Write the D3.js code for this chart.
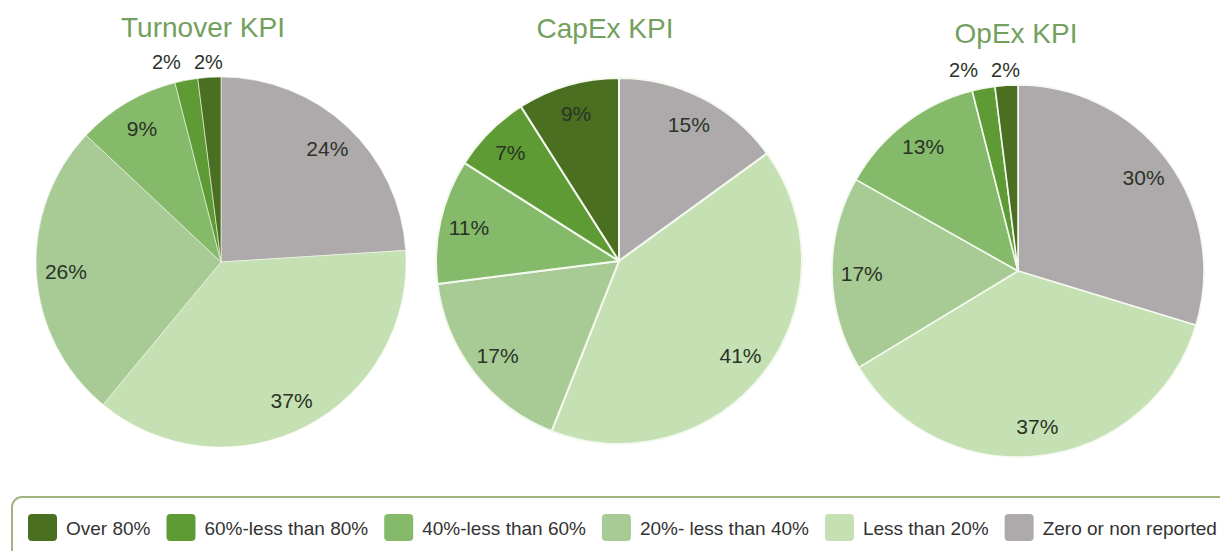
<!DOCTYPE html>
<meta charset="utf-8">
<script src="https://d3js.org/d3.v7.min.js"></script>
<style>
  body { margin: 0; background: #fff; }
  text { font-family: "Liberation Sans", Arial, sans-serif; }
</style>
<div id="my_dataviz"></div>
<script>

// legend order (darkest first)
var categories = ["Over 80%", "60%-less than 80%", "40%-less than 60%", "20%- less than 40%", "Less than 20%", "Zero or non reported"];
var colors = ["#4a6f20", "#5e9b34", "#84ba69", "#a8cb95", "#c5e0b3", "#aeaaab"];

var titles = ["Turnover KPI", "CapEx KPI", "OpEx KPI"];
var turnover = [2, 2, 9, 26, 37, 24];
var capex = [9, 7, 11, 17, 41, 15];
var opex = [2, 2, 13, 17, 37, 30];

// where each pie goes
var layout = [
  {cx: 221, cy: 262, r: 185, tdx: -18, ty: 37, stroke: 0.6},
  {cx: 619, cy: 261, r: 183, tdx: -14, ty: 38, stroke: 2},
  {cx: 1018, cy: 271, r: 186, tdx: -2, ty: 43, stroke: 1.6}
];

var width = 1220, height = 551;

var svg = d3.select("#my_dataviz")
  .append("svg")
    .attr("width", width)
    .attr("height", height);

var color = d3.scaleOrdinal().domain(categories).range(colors);

// pie starts at 12 o'clock with "Zero or non reported", going clockwise
var pie = d3.pie()
  .sort(null)
  .value(function(d) { return d.value; });

[turnover, capex, opex].forEach(function(values, i) {
  var L = layout[i];
  var rows = categories.map(function(c, j) { return {cat: c, value: values[j]}; }).reverse();
  var arcs = pie(rows);

  var arc = d3.arc().innerRadius(0).outerRadius(L.r);
  var labelArc = d3.arc().innerRadius(L.r * 0.84).outerRadius(L.r * 0.84);

  var g = svg.append("g")
    .attr("transform", "translate(" + L.cx + "," + L.cy + ")");

  g.selectAll("path")
    .data(arcs)
    .enter()
    .append("path")
      .attr("d", arc)
      .attr("fill", function(d) { return color(d.data.cat); })
      .attr("stroke", "#f4f9ef")
      .attr("stroke-width", L.stroke)
      .attr("stroke-linejoin", "round");

  // big enough slices get the label inside
  g.selectAll("text.inside")
    .data(arcs.filter(function(d) { return d.data.value >= 4; }))
    .enter()
    .append("text")
      .attr("class", "inside")
      .attr("transform", function(d) { return "translate(" + labelArc.centroid(d) + ")"; })
      .attr("text-anchor", "middle")
      .attr("dominant-baseline", "central")
      .attr("font-size", "21px")
      .attr("fill", "#2a3327")
      .text(function(d) { return d.data.value + "%"; });

  // tiny slices: label above the pie, pushed apart
  var outside = arcs.filter(function(d) { return d.data.value < 4; })
    .map(function(d) {
      var a = (d.startAngle + d.endAngle) / 2;
      return {d: d, x: Math.sin(a) * (L.r + 15)};
    })
    .sort(function(a, b) { return b.x - a.x; });
  for (var k = 1; k < outside.length; k++) {
    if (outside[k - 1].x - outside[k].x < 42) outside[k].x = outside[k - 1].x - 42;
  }
  g.selectAll("text.outside")
    .data(outside)
    .enter()
    .append("text")
      .attr("class", "outside")
      .attr("x", function(o) { return o.x; })
      .attr("y", -L.r - 15)
      .attr("text-anchor", "middle")
      .attr("dominant-baseline", "central")
      .attr("font-size", "20px")
      .attr("fill", "#2a3327")
      .text(function(o) { return o.d.data.value + "%"; });

  svg.append("text")
    .attr("x", L.cx + L.tdx)
    .attr("y", L.ty)
    .attr("text-anchor", "middle")
    .attr("font-size", "28px")
    .attr("fill", "#74a05d")
    .text(titles[i]);
});

// legend box
svg.append("rect")
  .attr("x", 12)
  .attr("y", 497)
  .attr("width", 1230)
  .attr("height", 80)
  .attr("rx", 10)
  .attr("fill", "#fff")
  .attr("stroke", "#a3b37f")
  .attr("stroke-width", 2);

var lx = 28;
categories.forEach(function(c) {
  svg.append("rect")
    .attr("x", lx)
    .attr("y", 514)
    .attr("width", 29)
    .attr("height", 27)
    .attr("rx", 4)
    .attr("fill", color(c));
  lx += 29 + 9;
  var t = svg.append("text")
    .attr("x", lx)
    .attr("y", 528)
    .attr("dominant-baseline", "central")
    .attr("font-size", "19px")
    .attr("fill", "#333")
    .text(c);
  lx += t.node().getComputedTextLength() + 16;
});

</script>
